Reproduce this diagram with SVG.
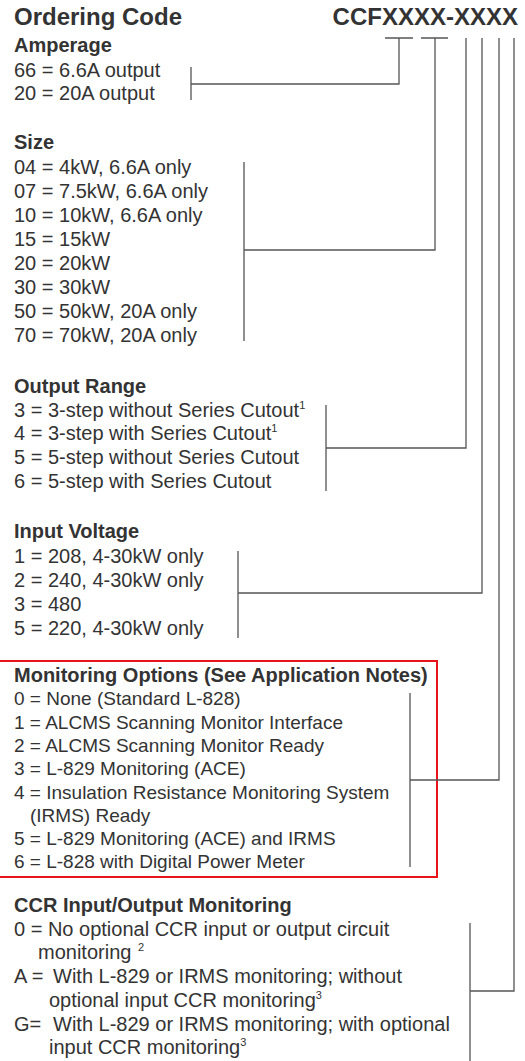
<svg xmlns="http://www.w3.org/2000/svg" width="525" height="1061" viewBox="0 0 525 1061">
<style>
text{font-family:"Liberation Sans",Arial,Helvetica,sans-serif;fill:#333;}
.t{font-size:24px;font-weight:bold;}
.h{font-size:20px;font-weight:bold;}
.i{font-size:20px;}
.m{font-size:19px;}
.sup{font-size:11px;}
.ln{stroke:#555;stroke-width:1.3;fill:none;}
</style>
<rect width="525" height="1061" fill="#fff"/>
<g id="title">
<text class="t" x="14" y="25">Ordering Code</text>
<text class="t" x="518" y="25" text-anchor="end">CCFXXXX-XXXX</text>
</g>
<g id="amperage">
<text class="h" x="14" y="52">Amperage</text>
<text class="i" x="14" y="77">66 = 6.6A output</text>
<text class="i" x="14" y="100">20 = 20A output</text>
</g>
<g id="size">
<text class="h" x="14" y="149">Size</text>
<text class="i" x="14" y="174">04 = 4kW, 6.6A only</text>
<text class="i" x="14" y="198">07 = 7.5kW, 6.6A only</text>
<text class="i" x="14" y="222">10 = 10kW, 6.6A only</text>
<text class="i" x="14" y="246">15 = 15kW</text>
<text class="i" x="14" y="270">20 = 20kW</text>
<text class="i" x="14" y="294">30 = 30kW</text>
<text class="i" x="14" y="318">50 = 50kW, 20A only</text>
<text class="i" x="14" y="342">70 = 70kW, 20A only</text>
</g>
<g id="output-range">
<text class="h" x="14" y="393">Output Range</text>
<text class="i" x="14" y="417">3 = 3-step without Series Cutout<tspan class="sup" dy="-8">1</tspan></text>
<text class="i" x="14" y="440">4 = 3-step with Series Cutout<tspan class="sup" dy="-8">1</tspan></text>
<text class="i" x="14" y="464">5 = 5-step without Series Cutout</text>
<text class="i" x="14" y="488">6 = 5-step with Series Cutout</text>
</g>
<g id="input-voltage">
<text class="h" x="14" y="538">Input Voltage</text>
<text class="i" x="14" y="563">1 = 208, 4-30kW only</text>
<text class="i" x="14" y="587">2 = 240, 4-30kW only</text>
<text class="i" x="14" y="611">3 = 480</text>
<text class="i" x="14" y="635">5 = 220, 4-30kW only</text>
</g>
<g id="monitoring-options">
<path d="M0 661H437V877H0" fill="none" stroke="#e8141b" stroke-width="2"/>
<text class="h" x="14" y="682">Monitoring Options (See Application Notes)</text>
<text class="m" x="14" y="705">0 = None (Standard L-828)</text>
<text class="m" x="14" y="729">1 = ALCMS Scanning Monitor Interface</text>
<text class="m" x="14" y="752">2 = ALCMS Scanning Monitor Ready</text>
<text class="m" x="14" y="775">3 = L-829 Monitoring (ACE)</text>
<text class="m" x="14" y="799">4 = Insulation Resistance Monitoring System</text>
<text class="m" x="30" y="822">(IRMS) Ready</text>
<text class="m" x="14" y="845">5 = L-829 Monitoring (ACE) and IRMS</text>
<text class="m" x="14" y="868">6 = L-828 with Digital Power Meter</text>
</g>
<g id="ccr-monitoring">
<text class="h" x="14" y="912">CCR Input/Output Monitoring</text>
<text class="i" x="14" y="936">0 = No optional CCR input or output circuit</text>
<text class="i" x="38" y="959">monitoring<tspan class="sup" x="138" dy="-8">2</tspan></text>
<text class="i" x="14" y="983">A =<tspan x="53">With L-829 or IRMS monitoring; without</tspan></text>
<text class="i" x="49" y="1007">optional input CCR monitoring<tspan class="sup" dy="-8">3</tspan></text>
<text class="i" x="14" y="1031">G=<tspan x="53">With L-829 or IRMS monitoring; with optional</tspan></text>
<text class="i" x="49" y="1054">input CCR monitoring<tspan class="sup" dy="-8">3</tspan></text>
</g>
<g id="connectors" class="ln">
<path d="M385 38H413M399 38V84H191M191 67V100"/>
<path d="M421 38H448M435 38V250H244M244 162V341"/>
<path d="M466 38V448H326M326 405V491"/>
<path d="M482 38V593H238M238 551V638"/>
<path d="M499 38V780H410M410 693V867"/>
<path d="M514 38V991H470M470 923V1061"/>
</g>
</svg>
